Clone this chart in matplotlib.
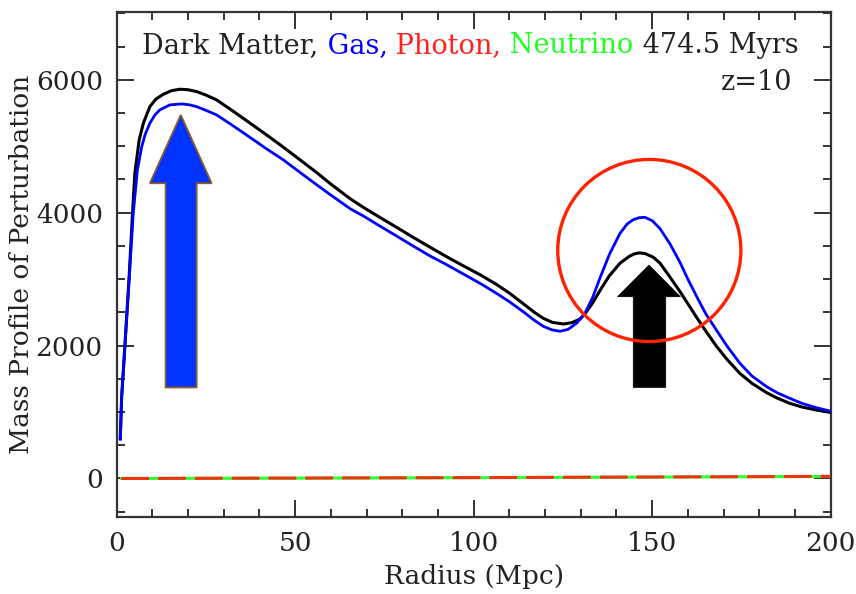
import numpy as np
import matplotlib
matplotlib.use("Agg")
import matplotlib.pyplot as plt
from matplotlib.patches import Polygon, Ellipse
from matplotlib.ticker import MultipleLocator

plt.rcParams['font.family'] = ['DejaVu Serif']
plt.rcParams['lines.scale_dashes'] = False

# mass profile of the perturbation, dark matter
r_dm = [1.0, 1.4, 2.3, 3.5, 4.6, 5.1, 6.3, 7.5, 9.3, 11, 13.1, 15.3, 17.7, 20, 22.4, 25, 28, 32,
        37.3, 42, 46.7, 51, 56.1, 60, 65.4, 69.1, 74, 78.4, 83, 87.8, 92, 97.1, 102, 106.4, 110,
        113.9, 117, 119.5, 122, 125.1, 127.5, 129.8, 131.2, 133.3, 135.4, 138, 141, 143.5, 145,
        146.4, 148, 150.3, 152.2, 155, 157.7, 160, 162.5, 165, 168, 171, 174.6, 178, 182.1, 185,
        188.6, 192, 196, 199.8]
m_dm = [600, 1230, 2000, 3050, 4150, 4600, 5095, 5350, 5596, 5710, 5783, 5835, 5858, 5850, 5822,
        5770, 5697, 5550, 5350, 5170, 4985, 4810, 4600, 4430, 4210, 4080, 3920, 3780, 3630, 3480,
        3350, 3200, 3060, 2920, 2790, 2630, 2500, 2410, 2350, 2325, 2345, 2400, 2480, 2640, 2830,
        3050, 3240, 3340, 3380, 3395, 3385, 3330, 3240, 3030, 2820, 2630, 2420, 2220, 1990, 1790,
        1580, 1430, 1290, 1210, 1130, 1075, 1030, 995]

# gas
r_gas = [1.04, 1.4, 2.3, 3.5, 4.65, 5.8, 7.0, 8.0, 9.3, 10.7, 12.1, 14.9, 18.2, 20.2, 22.4, 25,
         28, 32, 37.3, 42, 46.7, 51, 56.1, 60, 65.4, 69.1, 74, 78.4, 83, 87.8, 92, 97.1, 102,
         106.4, 110, 113.9, 117, 119.5, 122, 124.2, 126.5, 128.9, 131.2, 133.3, 135.4, 138, 141,
         143, 144.7, 146.4, 148, 150, 152.2, 155, 157.7, 160, 162.5, 165, 168, 171, 174.6, 178,
         182.1, 185, 188.6, 192, 196, 199.8]
m_gas = [590, 1230, 1980, 2990, 3990, 4640, 4990, 5180, 5346, 5470, 5547, 5622, 5637, 5625, 5596,
         5540, 5471, 5330, 5135, 4960, 4794, 4620, 4417, 4265, 4060, 3950, 3790, 3649, 3500, 3348,
         3230, 3077, 2930, 2786, 2660, 2509, 2380, 2290, 2235, 2215, 2245, 2340, 2490, 2720, 3020,
         3370, 3690, 3830, 3895, 3925, 3930, 3880, 3760, 3530, 3262, 3000, 2735, 2480, 2233, 1990,
         1732, 1540, 1380, 1290, 1205, 1130, 1065, 1015]

# photon and neutrino stay close to zero
r_rad = [1.3, 50, 100, 150, 200]
m_photon = [0, 6, 13, 22, 32]
m_neutrino = [0, 5, 12, 21, 30]

fs = 19
fig = plt.figure(figsize=(8.56, 5.94), dpi=100)
ax = fig.add_axes([0.1363, 0.1296, 0.8341, 0.8502])

ax.plot(r_rad, m_neutrino, color='#33ff33', lw=2.2, zorder=2)
ax.plot(r_rad, m_photon, color='#ee3311', lw=2.2, dashes=(20, 6.5), zorder=3)
ax.plot(r_dm, m_dm, color='black', lw=2.2, zorder=4)
ax.plot(r_gas, m_gas, color='#0000ff', lw=2.0, zorder=5)

# arrows marking the two peaks
blue_arrow = [(13.7, 1370), (13.7, 4443), (9.3, 4443), (17.95, 5471), (26.6, 4443),
              (22.4, 4443), (22.4, 1370)]
ax.add_patch(Polygon(blue_arrow, closed=True, facecolor='#0033ff', edgecolor='#8b5a2b',
                     lw=1.3, zorder=3))
black_arrow = [(144.7, 1370), (144.7, 2735), (140.3, 2735), (149.1, 3212), (157.9, 2735),
               (153.8, 2735), (153.8, 1370)]
ax.add_patch(Polygon(black_arrow, closed=True, facecolor='black', edgecolor='black',
                     lw=0.5, zorder=6))
ax.add_patch(Ellipse((149.2, 3431), 51.3, 2741, fill=False, edgecolor='#ff2200',
                     lw=2.4, zorder=7))

ax.set_xlim(0, 200)
ax.set_ylim(-580, 7020)
ax.xaxis.set_major_locator(MultipleLocator(50))
ax.xaxis.set_minor_locator(MultipleLocator(10))
ax.yaxis.set_major_locator(MultipleLocator(2000))
ax.yaxis.set_minor_locator(MultipleLocator(500))
ax.tick_params(which='both', direction='in', top=True, right=True, color='#333333',
               width=1.4, labelsize=fs, labelcolor='#222222')
ax.tick_params(which='major', length=12, pad=10)
ax.tick_params(which='minor', length=6)
for s in ax.spines.values():
    s.set_linewidth(1.6)
    s.set_color('#333333')

ax.set_xlabel('Radius (Mpc)', fontsize=fs, color='#222222', labelpad=6)
ax.set_ylabel('Mass Profile of Perturbation', fontsize=fs, color='#222222', labelpad=1)

# coloured header, one word group after another on the same baseline
fs_head = 19.5
pieces = [('Dark Matter,', '#222222'), (' Gas,', '#0000ff'), (' Photon,', '#ff2222'),
          (' Neutrino', '#22ff22'), (' 474.5 Myrs', '#222222')]
t = ax.text(0.036, 0.919, pieces[0][0], transform=ax.transAxes, fontsize=fs_head,
            color=pieces[0][1], va='baseline')
for txt, c in pieces[1:]:
    t = ax.annotate(txt, xy=(1, 0), xycoords=t, va='bottom', ha='left', fontsize=fs_head,
                    color=c)
ax.text(0.947, 0.8455, 'z=10', transform=ax.transAxes, fontsize=fs_head, color='#222222',
        ha='right', va='baseline')

fig.savefig('out.png', dpi=100)
